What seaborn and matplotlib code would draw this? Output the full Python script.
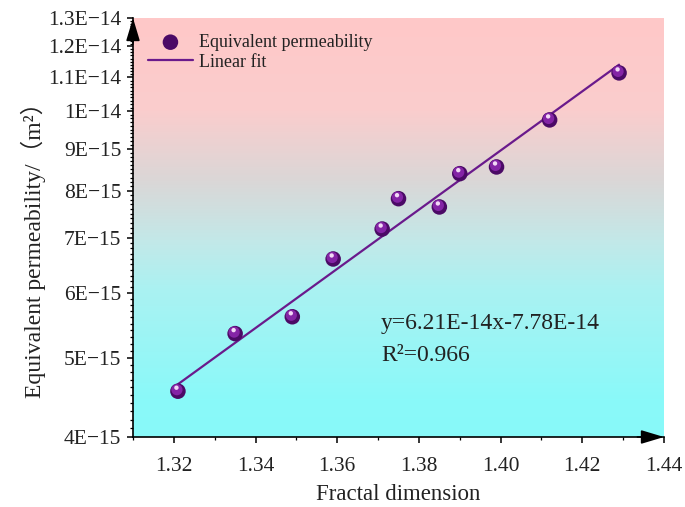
import numpy as np
import pandas as pd
import matplotlib.pyplot as plt
import seaborn as sns
from matplotlib.colors import LinearSegmentedColormap
from matplotlib.ticker import FixedLocator, FixedFormatter, MultipleLocator, NullFormatter, FormatStrFormatter
from matplotlib.transforms import offset_copy

# values
fractal_dim = [1.321, 1.335, 1.349, 1.359, 1.371, 1.375, 1.385, 1.390, 1.399, 1.412, 1.429]
permeability = [4.55e-15, 5.35e-15, 5.61e-15, 6.60e-15, 7.18e-15, 7.82e-15,
                7.64e-15, 8.39e-15, 8.55e-15, 9.76e-15, 1.114e-14]
fit_x = [1.321, 1.429]
fit_y = [4.64e-15, 1.14e-14]

y_ticks = [4e-15, 5e-15, 6e-15, 7e-15, 8e-15, 9e-15, 1e-14, 1.1e-14, 1.2e-14, 1.3e-14]
y_tick_labels = ["4E\u221215", "5E\u221215", "6E\u221215", "7E\u221215", "8E\u221215",
                 "9E\u221215", "1E\u221214", "1.1E\u221214", "1.2E\u221214", "1.3E\u221214"]
equation = "y=6.21E-14x-7.78E-14"
r_squared = "R\u00b2=0.966"

sns.set_style("ticks")
plt.rcParams["font.family"] = ["Liberation Serif", "Noto Sans CJK SC"]

fig = plt.figure(figsize=(6.85, 5.07), dpi=100)
rect = [133 / 685, 70 / 507, 531 / 685, 419 / 507]

# gradient background (pink top -> cyan bottom)
bg = fig.add_axes(rect, zorder=0)
cmap = LinearSegmentedColormap.from_list(
    "bg",
    [(0.0, "#88fafa"), (0.09, "#8af9f9"), (0.35, "#aaf2f2"), (0.47, "#c3e8e8"),
     (0.61, "#dad7d7"), (0.78, "#facdcd"), (1.0, "#ffc8c8")],
)
bg.imshow(np.linspace(0, 1, 256).reshape(-1, 1), origin="lower", cmap=cmap,
          aspect="auto", extent=[0, 1, 0, 1])
bg.axis("off")

ax = fig.add_axes(rect, zorder=1)
ax.set_facecolor("none")

df = pd.DataFrame({"Fractal dimension": fractal_dim, "Permeability": permeability})

sns.lineplot(x=fit_x, y=fit_y, color="#6a1a8c", lw=1.6, ax=ax, zorder=2, label="Linear fit")

# spheres: dark base, lighter body, highlight
sns.scatterplot(data=df, x="Fractal dimension", y="Permeability", s=125, color="#4b0a66",
                edgecolor="none", ax=ax, zorder=3, label="Equivalent permeability")
sns.scatterplot(data=df, x="Fractal dimension", y="Permeability", s=65, color="#8424a6",
                edgecolor="none", ax=ax, zorder=4, legend=False,
                transform=offset_copy(ax.transData, fig, x=-1, y=1.5, units="dots"))
sns.scatterplot(data=df, x="Fractal dimension", y="Permeability", s=10, color="#f2d8f6",
                edgecolor="none", ax=ax, zorder=5, legend=False,
                transform=offset_copy(ax.transData, fig, x=-1.5, y=3.5, units="dots"))

ax.set_yscale("log")
ax.set_xlim(1.31, 1.44)
ax.set_ylim(4e-15, 1.3e-14)

ax.yaxis.set_major_locator(FixedLocator(y_ticks))
ax.yaxis.set_major_formatter(FixedFormatter(y_tick_labels))
ax.yaxis.set_minor_locator(FixedLocator(np.arange(40, 130) * 1e-16))
ax.yaxis.set_minor_formatter(NullFormatter())
ax.xaxis.set_major_locator(MultipleLocator(0.02))
ax.xaxis.set_minor_locator(MultipleLocator(0.01))
ax.xaxis.set_major_formatter(FormatStrFormatter("%.2f"))

ax.tick_params(which="major", direction="out", length=4.5, width=1.1, labelsize=15.5,
               color="black", labelcolor="#222222")
ax.tick_params(which="minor", direction="out", length=2.5, width=0.9, color="black")
ax.tick_params(axis="x", pad=10)
ax.tick_params(axis="y", pad=4)

for side in ["top", "right"]:
    ax.spines[side].set_visible(False)
for side in ["left", "bottom"]:
    ax.spines[side].set_linewidth(1.2)
    ax.spines[side].set_color("black")

arrow = dict(arrowstyle="-|>,head_length=1.0,head_width=0.3", color="black", lw=1.2,
             mutation_scale=14, shrinkA=0, shrinkB=0)
ax.annotate("", xy=(1, 0), xytext=(0.95, 0), xycoords="axes fraction",
            arrowprops=arrow, annotation_clip=False)
ax.annotate("", xy=(0, 1), xytext=(0, 0.94), xycoords="axes fraction",
            arrowprops=arrow, annotation_clip=False)

ax.set_xlabel("Fractal dimension", fontsize=16.5, labelpad=6, color="#222222")
ax.set_ylabel("Equivalent permeability/\uff08m\u00b2\uff09", fontsize=17, color="#222222")
ax.yaxis.set_label_coords(-0.163, 0.46)

ax.text(0.467, 0.272, equation, transform=ax.transAxes, fontsize=17, va="center", color="#222222")
ax.text(0.467, 0.195, r_squared, transform=ax.transAxes, fontsize=17, va="center", color="#222222")

handles, labels = ax.get_legend_handles_labels()
order = [labels.index("Equivalent permeability"), labels.index("Linear fit")]
ax.legend([handles[i] for i in order], [labels[i] for i in order],
          loc="upper left", bbox_to_anchor=(0.028, 0.962), frameon=False, fontsize=13,
          handlelength=2.5, handletextpad=0.35, labelspacing=0.15, borderaxespad=0,
          borderpad=0, labelcolor="#222222")

fig.savefig("out.png", dpi=100)
